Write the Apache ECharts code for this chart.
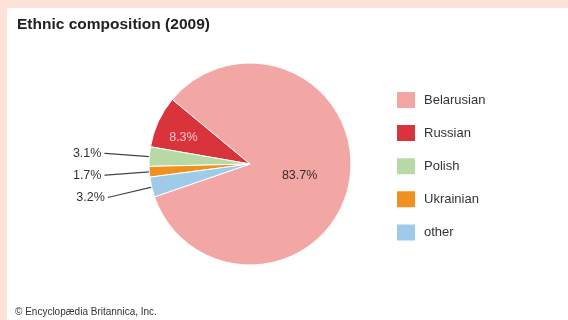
<!DOCTYPE html>
<html>
<head>
<meta charset="utf-8">
<script src="https://cdn.jsdelivr.net/npm/echarts@6/dist/echarts.min.js"></script>
<style>
  html, body { margin: 0; padding: 0; width: 568px; height: 320px; background: #fce2d7; overflow: hidden; }
  #chart { position: absolute; left: 7px; top: 8px; width: 561px; height: 312px; background: #ffffff; }
</style>
</head>
<body>
<div id="chart"></div>
<script>
const titleText = 'Ethnic composition (2009)';
const creditText = '\u00A9 Encyclop\u00E6dia Britannica, Inc.';
const categories = ['Belarusian', 'Russian', 'Polish', 'Ukrainian', 'other'];
const shares = [83.7, 8.3, 3.1, 1.7, 3.2];
const colors = ['#f3a7a5', '#d9343b', '#b7d9a5', '#f0901f', '#9fcbea'];
const insideLabel = [true, true, false, false, false];
const insideLabelColor = ['#3a2a2a', '#f7c6c6', '', '', ''];

const FONT = '"Liberation Sans", Arial, Helvetica, sans-serif';
const chart = echarts.init(document.getElementById('chart'), null, { renderer: 'canvas' });

const data = categories.map((name, i) => {
  const item = { name: name, value: shares[i], itemStyle: { color: colors[i] } };
  if (insideLabel[i]) {
    item.label = { position: 'inside', color: insideLabelColor[i], fontSize: 12.5 };
    if (i === 1) item.label.offset = [-18, -4];
    if (i === 0) item.label.offset = [-3, 2];
  }
  return item;
});

chart.setOption({
  animation: false,
  backgroundColor: '#ffffff',
  title: [
    { text: titleText, left: 5, top: 4, textStyle: { fontFamily: FONT, fontSize: 15.5, fontWeight: 'bold', color: '#222' } },
    { text: creditText, left: 3, bottom: -2, textStyle: { fontFamily: FONT, fontSize: 10, fontWeight: 'normal', color: '#333' } }
  ],
  legend: {
    orient: 'vertical',
    left: 388,
    top: 82,
    padding: 0,
    itemWidth: 20,
    itemHeight: 18,
    itemGap: 13.1,
    icon: 'rect',
    data: categories,
    textStyle: { fontFamily: FONT, fontSize: 13, color: '#333', padding: [0, 0, 0, 3] }
  },
  series: [{
    type: 'pie',
    center: [243, 156],
    radius: [0, 101],
    clockwise: false,
    startAngle: 199,
    avoidLabelOverlap: true,
    data: data,
    itemStyle: { borderColor: '#ffffff', borderWidth: 1 },
    label: {
      show: true,
      position: 'outside',
      formatter: '{c}%',
      fontFamily: FONT,
      fontSize: 12.5,
      color: '#333',
      distanceToLabelLine: 3
    },
    labelLine: {
      show: true,
      length: 44,
      length2: 1,
      smooth: false,
      lineStyle: { color: '#444', width: 1.2 }
    },
    emphasis: { disabled: true }
  }]
});
</script>
</body>
</html>
